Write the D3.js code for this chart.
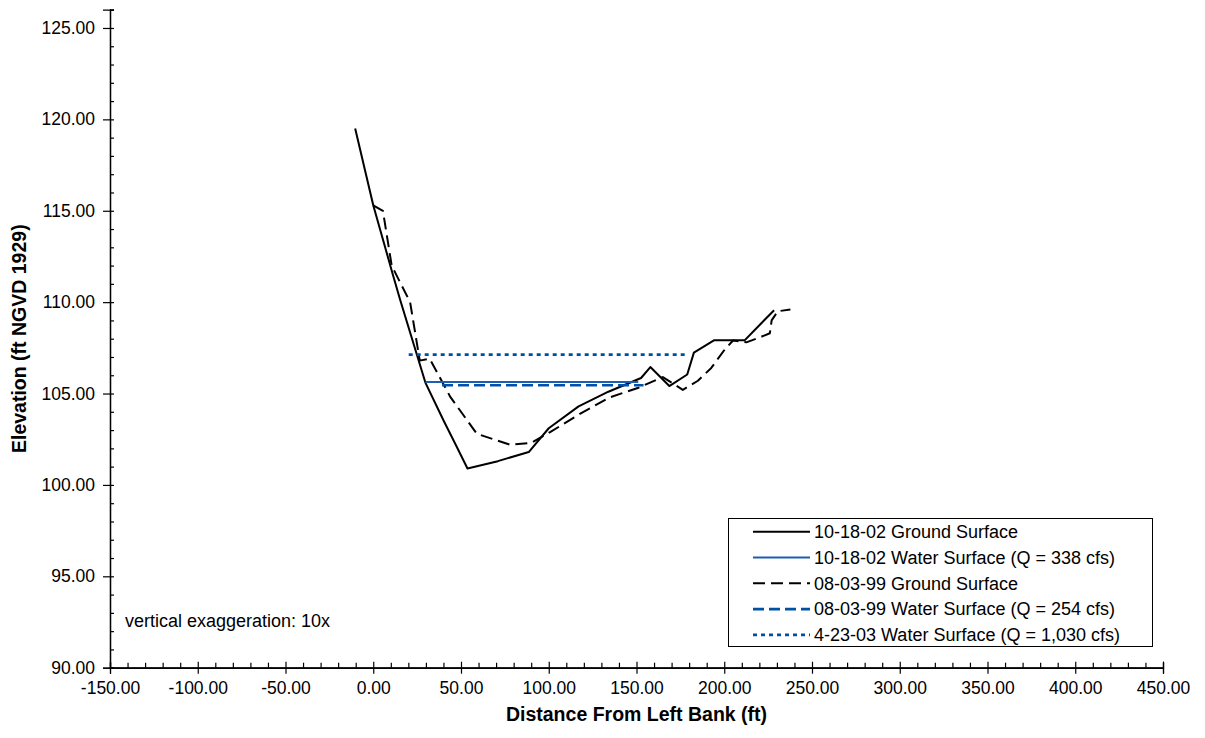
<!DOCTYPE html>
<html>
<head>
<meta charset="utf-8">
<script src="https://cdn.jsdelivr.net/npm/d3@7"></script>
<style>
  html, body { margin: 0; padding: 0; background: #fff; }
  svg { display: block; }
  text { font-family: Arial, "Liberation Sans", sans-serif; fill: #000; }
</style>
</head>
<body>
<svg id="chart" width="1205" height="738"></svg>
<script>
// ---- data ----
const ground2002X = [-10.3, 0, 10.9, 15.4, 29.7, 40.2, 47, 53.7, 71, 88.6, 100, 117, 134, 152.6, 157.9, 168.7, 178.9, 182.7, 194.1, 211.6, 228.4];
const ground2002Y = [119.5, 115.3, 111.6, 110.1, 105.6, 103.5, 102.2, 100.9, 101.3, 101.8, 103.1, 104.3, 105.1, 105.85, 106.45, 105.41, 106.04, 107.24, 107.91, 107.91, 109.56];

const ground1999X = [0, 5.5, 10.5, 21, 26.5, 32.2, 44, 59, 78, 90, 101, 118, 135, 150.7, 165, 176.4, 185, 192.6, 200.2, 205, 212.6, 221, 226, 227, 230.5, 237.7];
const ground1999Y = [115.3, 115.0, 112.0, 110.0, 106.8, 106.9, 104.8, 102.8, 102.2, 102.3, 102.9, 103.9, 104.8, 105.3, 105.9, 105.2, 105.7, 106.4, 107.4, 107.9, 107.8, 108.1, 108.3, 109.0, 109.5, 109.6];

const water2002X = [29.7, 151];
const water2002Y = [105.63, 105.63];
const water1999X = [39.2, 154];
const water1999Y = [105.45, 105.45];
const water2003X = [20.2, 179.3];
const water2003Y = [107.13, 107.13];

const xTicks = [-150, -100, -50, 0, 50, 100, 150, 200, 250, 300, 350, 400, 450];
const yTicks = [90, 95, 100, 105, 110, 115, 120, 125];

const legendLabels = [
  "10-18-02 Ground Surface",
  "10-18-02 Water Surface (Q = 338 cfs)",
  "08-03-99 Ground Surface",
  "08-03-99 Water Surface (Q = 254 cfs)",
  "4-23-03 Water Surface (Q = 1,030 cfs)"
];

// ---- layout ----
const svg = d3.select("#chart");
const X0 = 110, X1 = 1163, Y0 = 667.7, Y1 = 9.7;
const x = d3.scaleLinear().domain([-150, 450]).range([X0, X1]);
const y = d3.scaleLinear().domain([90, 126]).range([Y0, Y1]);
const fmt = v => d3.format(".2f")(v).replace("\u2212", "-");

const styles = [
  { stroke: "#000", width: 2, dash: null },
  { stroke: "#1a5fb4", width: 2, dash: null },
  { stroke: "#000", width: 2, dash: "12,6" },
  { stroke: "#0050a4", width: 2.6, dash: "11,5" },
  { stroke: "#0050a4", width: 2.6, dash: "4,4" }
];

// ---- axes ----
const yMinor = d3.range(90, 126.01, 1).filter(v => v % 5 !== 0);
const xMinor = d3.range(-150, 450.01, 10).filter(v => v % 50 !== 0);

svg.append("g").attr("transform", `translate(${X0},0)`)
  .call(d3.axisLeft(y).tickValues(yTicks).tickSize(7).tickPadding(8).tickFormat(fmt));
svg.append("g").attr("transform", `translate(${X0},0)`)
  .call(d3.axisRight(y).tickValues(yTicks).tickSize(4).tickFormat(""));
svg.append("g").attr("transform", `translate(${X0},0)`)
  .call(d3.axisRight(y).tickValues(yMinor).tickSize(4).tickFormat(""));

svg.append("g").attr("transform", `translate(0,${Y0})`)
  .call(d3.axisBottom(x).tickValues(xTicks).tickSize(6).tickPadding(8).tickFormat(fmt));
svg.append("g").attr("transform", `translate(0,${Y0})`)
  .call(d3.axisTop(x).tickValues(xTicks).tickSize(6).tickFormat(""));
svg.append("g").attr("transform", `translate(0,${Y0})`)
  .call(d3.axisTop(x).tickValues(xMinor).tickSize(5).tickFormat(""));

svg.selectAll(".domain").attr("stroke", "#000").attr("stroke-width", 1.2);
svg.selectAll(".tick line").attr("stroke", "#000").attr("stroke-width", 1.2);
svg.selectAll(".tick text").style("font-size", "17.5px").style("font-family", "Arial, 'Liberation Sans', sans-serif").attr("fill", "#000");

// axis titles
svg.append("text").attr("x", (X0 + X1) / 2).attr("y", 721)
  .attr("text-anchor", "middle").style("font-size", "19.5px").style("font-weight", "bold")
  .text("Distance From Left Bank (ft)");
svg.append("text").attr("transform", `translate(26,${(Y0 + Y1) / 2}) rotate(-90)`)
  .attr("text-anchor", "middle").style("font-size", "19.5px").style("font-weight", "bold")
  .text("Elevation (ft NGVD 1929)");

// ---- series ----
const line = d3.line().x(d => x(d[0])).y(d => y(d[1]));
const series = [
  d3.zip(ground2002X, ground2002Y),
  d3.zip(water2002X, water2002Y),
  d3.zip(ground1999X, ground1999Y),
  d3.zip(water1999X, water1999Y),
  d3.zip(water2003X, water2003Y)
];
const drawOrder = [0, 2, 4, 3, 1];
drawOrder.forEach(i => {
  const s = styles[i];
  svg.append("path").datum(series[i]).attr("d", line)
    .attr("fill", "none").attr("stroke", s.stroke).attr("stroke-width", s.width)
    .attr("stroke-dasharray", s.dash).attr("stroke-linejoin", "round");
});

// annotation
svg.append("text").attr("x", 125).attr("y", 627).style("font-size", "18px")
  .text("vertical exaggeration: 10x");

// ---- legend ----
const lg = svg.append("g");
lg.append("rect").attr("x", 728.5).attr("y", 518.5).attr("width", 424).attr("height", 128)
  .attr("fill", "#fff").attr("stroke", "#000").attr("stroke-width", 1);
legendLabels.forEach((lab, i) => {
  const cy = 531.7 + i * 25.8;
  const s = styles[i];
  lg.append("line").attr("x1", 753).attr("x2", 810).attr("y1", cy).attr("y2", cy)
    .attr("stroke", s.stroke).attr("stroke-width", s.width).attr("stroke-dasharray", s.dash);
  lg.append("text").attr("x", 814).attr("y", cy).attr("dy", "0.35em")
    .style("font-size", "18px").text(lab);
});
</script>
</body>
</html>
